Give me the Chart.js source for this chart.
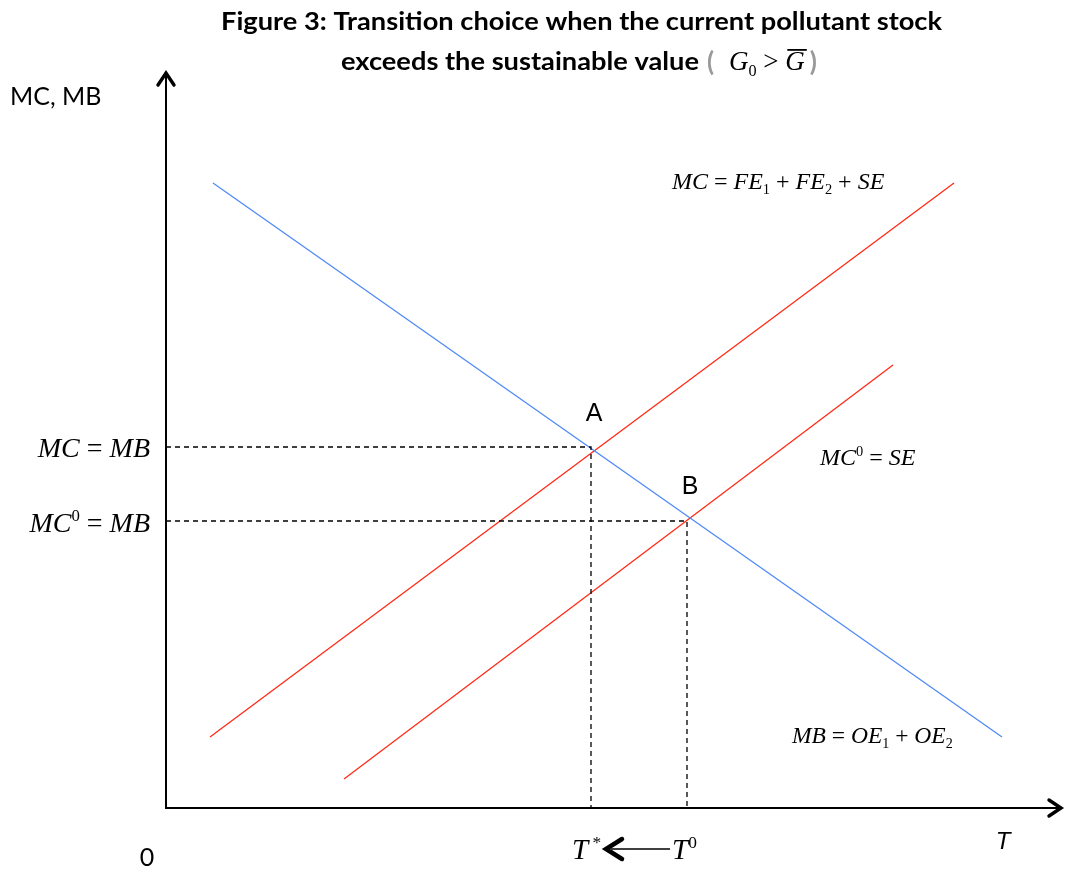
<!DOCTYPE html>
<html><head><meta charset="utf-8">
<script src="https://cdn.jsdelivr.net/npm/chart.js@4"></script>
<style>html,body{margin:0;padding:0;background:#fff}canvas{display:block}</style>
</head><body>
<canvas id="c" width="1065" height="870"></canvas>
<script>
// ---- data (schematic units; origin at axes corner) ----
const mbLineX  = [4.7, 83.6];   const mbLineY  = [62.5, 7.1];   // MB = OE1 + OE2 (blue)
const mcLineX  = [4.4, 78.8];   const mcLineY  = [7.1, 62.5];   // MC = FE1 + FE2 + SE (red)
const mc0LineX = [17.8, 72.7];  const mc0LineY = [2.9, 44.3];   // MC0 = SE (red)
const pointA = [42.5, 36.1];    // MC = MB
const pointB = [52.1, 28.7];    // MC0 = MB
const axisEnd = [89.6, 73.6];   // arrow tips of T axis and MC,MB axis
const pointLabels = ['A', 'B'];

const toPts = (xs, ys) => xs.map((x, i) => ({x, y: ys[i]}));
const SERIF = '"Liberation Serif","Times New Roman",serif';
const SANS = 'Lato, "Open Sans", sans-serif';

function rich(ctx, segs, x, y, size, align) {
  const parts = segs.map(([t, s]) => {
    let f, dy = 0;
    if (s === 'i') f = `italic ${size}px ${SERIF}`;
    else if (s === 'n') f = `${size}px ${SERIF}`;
    else if (s === 'sub') { f = `${size * 0.6}px ${SERIF}`; dy = size * 0.22; }
    else if (s === 'sup') { f = `${size * 0.6}px ${SERIF}`; dy = -size * 0.38; }
    ctx.font = f;
    return {t, f, dy, w: ctx.measureText(t).width};
  });
  const total = parts.reduce((a, p) => a + p.w, 0);
  let cx = align === 'right' ? x - total : align === 'center' ? x - total / 2 : x;
  ctx.textBaseline = 'alphabetic'; ctx.textAlign = 'left';
  for (const p of parts) { ctx.font = p.f; ctx.fillText(p.t, cx, y + p.dy); cx += p.w; }
  return total;
}

function stretchText(ctx, text, x, y, width) {
  const w = ctx.measureText(text).width;
  ctx.save(); ctx.translate(x, y); ctx.scale(width / w, 1);
  ctx.textAlign = 'left'; ctx.fillText(text, 0, 0); ctx.restore();
  return width / w;
}

const overlay = {
  id: 'overlay',
  afterDatasetsDraw(chart) {
    const ctx = chart.ctx, xs = chart.scales.x, ys = chart.scales.y;
    const X = v => xs.getPixelForValue(v), Y = v => ys.getPixelForValue(v);
    ctx.save();
    ctx.fillStyle = '#000'; ctx.strokeStyle = '#000';
    // axes
    ctx.lineWidth = 2;
    ctx.beginPath();
    ctx.moveTo(X(0), Y(axisEnd[1])); ctx.lineTo(X(0), Y(0)); ctx.lineTo(X(axisEnd[0]), Y(0));
    ctx.stroke();
    ctx.lineWidth = 3.4; ctx.lineCap = 'round'; ctx.lineJoin = 'miter';
    ctx.beginPath();
    ctx.moveTo(X(0) - 8, Y(axisEnd[1]) + 13); ctx.lineTo(X(0), Y(axisEnd[1]) + 1); ctx.lineTo(X(0) + 8, Y(axisEnd[1]) + 13);
    ctx.stroke();
    ctx.beginPath();
    ctx.moveTo(X(axisEnd[0]) - 13, Y(0) - 8); ctx.lineTo(X(axisEnd[0]) - 1, Y(0)); ctx.lineTo(X(axisEnd[0]) - 13, Y(0) + 8);
    ctx.stroke();

    // title
    ctx.textBaseline = 'alphabetic';
    ctx.font = `bold 24px ${SANS}`;
    const sx = stretchText(ctx, 'Figure 3: Transition choice when the current pollutant stock', 221, 30, 721);
    const t2 = 'exceeds the sustainable value';
    const w2 = ctx.measureText(t2).width * sx;
    stretchText(ctx, t2, 341, 70, w2);
    let cx = 341 + w2 + 8;
    ctx.font = `bold 26px ${SANS}`;
    ctx.fillStyle = '#9a9a9a'; ctx.fillText('(', cx, 71);
    ctx.fillStyle = '#000';
    cx += 22;
    const w = rich(ctx, [['G', 'i'], ['0', 'sub'], [' > ', 'n'], ['G', 'i']], cx, 70, 27, 'left');
    ctx.font = `italic 27px ${SERIF}`;
    const gW = ctx.measureText('G').width;
    ctx.fillRect(cx + w - gW + 2, 49, gW, 1.8);
    cx += w + 5;
    ctx.font = `bold 26px ${SANS}`;
    ctx.fillStyle = '#9a9a9a'; ctx.fillText(')', cx, 71);
    ctx.fillStyle = '#000';

    // axis labels
    ctx.font = `25px ${SANS}`;
    ctx.textAlign = 'left'; ctx.textBaseline = 'alphabetic';
    ctx.fillText('MC, MB', X(-15.6), Y(70.3));
    ctx.textAlign = 'center';
    ctx.fillText('0', X(-1.9), Y(-5.8));
    ctx.font = 'italic 24px "Liberation Sans", Arial, sans-serif';
    ctx.fillText('T', X(83.7), Y(-4.1));

    // point labels
    ctx.font = '25px "Liberation Sans", Arial, sans-serif';
    ctx.fillText(pointLabels[0], X(pointA[0] + 0.3), Y(pointA[1] + 2.6));
    ctx.fillText(pointLabels[1], X(pointB[0] + 0.3), Y(pointB[1] + 2.7));

    // equation labels
    rich(ctx, [['MC', 'i'], [' = ', 'n'], ['MB', 'i']], X(-1.6), Y(pointA[1] - 1.0), 28, 'right');
    rich(ctx, [['MC', 'i'], ['0', 'sup'], [' = ', 'n'], ['MB', 'i']], X(-1.6), Y(pointB[1] - 1.1), 28, 'right');
    rich(ctx, [['MC', 'i'], [' = ', 'n'], ['FE', 'i'], ['1', 'sub'], [' + ', 'n'], ['FE', 'i'], ['2', 'sub'], [' + ', 'n'], ['SE', 'i']], X(50.6), Y(61.9), 24, 'left');
    rich(ctx, [['MC', 'i'], ['0', 'sup'], [' = ', 'n'], ['SE', 'i']], X(65.4), Y(34.3), 24, 'left');
    rich(ctx, [['MB', 'i'], [' = ', 'n'], ['OE', 'i'], ['1', 'sub'], [' + ', 'n'], ['OE', 'i'], ['2', 'sub']], X(62.6), Y(6.5), 23.5, 'left');

    // T* <- T0
    rich(ctx, [['T', 'i'], [' *', 'sup']], X(pointA[0] - 1.9), Y(-5.1), 29, 'left');
    rich(ctx, [['T', 'i'], ['0', 'sup']], X(pointB[0] - 1.5), Y(-5.1), 29, 'left');
    const ay = Y(-4.1);
    ctx.lineWidth = 1.5; ctx.lineCap = 'butt';
    ctx.beginPath(); ctx.moveTo(X(pointB[0] - 1.7), ay); ctx.lineTo(X(pointA[0] + 2.0), ay); ctx.stroke();
    ctx.lineWidth = 4.5; ctx.lineCap = 'round'; ctx.lineJoin = 'miter';
    ctx.beginPath();
    ctx.moveTo(X(pointA[0] + 3.1), ay - 10); ctx.lineTo(X(pointA[0] + 1.5), ay); ctx.lineTo(X(pointA[0] + 3.1), ay + 10);
    ctx.stroke();
    ctx.restore();
  }
};

const dash = {borderColor: '#000', borderWidth: 1.3, borderDash: [5, 4], pointRadius: 0, showLine: true, fill: false, clip: false};
new Chart(document.getElementById('c'), {
  type: 'scatter',
  data: {
    datasets: [
      {...dash, data: [{x: 0, y: pointA[1]}, {x: pointA[0], y: pointA[1]}, {x: pointA[0], y: 0}]},
      {...dash, data: [{x: 0, y: pointB[1]}, {x: pointB[0], y: pointB[1]}, {x: pointB[0], y: 0}]},
      {data: toPts(mbLineX, mbLineY), borderColor: '#4f8af6', borderWidth: 1.3, showLine: true, pointRadius: 0, clip: false},
      {data: toPts(mcLineX, mcLineY), borderColor: '#ff2a14', borderWidth: 1.3, showLine: true, pointRadius: 0, clip: false},
      {data: toPts(mc0LineX, mc0LineY), borderColor: '#ff2a14', borderWidth: 1.3, showLine: true, pointRadius: 0, clip: false}
    ]
  },
  options: {
    responsive: false, animation: false, devicePixelRatio: 1,
    layout: {padding: 0},
    plugins: {legend: {display: false}, tooltip: {enabled: false}, title: {display: false}},
    scales: {
      x: {type: 'linear', min: -16.6, max: 89.9, display: false},
      y: {type: 'linear', min: -6.2, max: 80.8, display: false}
    }
  },
  plugins: [overlay]
});
</script>
</body></html>
